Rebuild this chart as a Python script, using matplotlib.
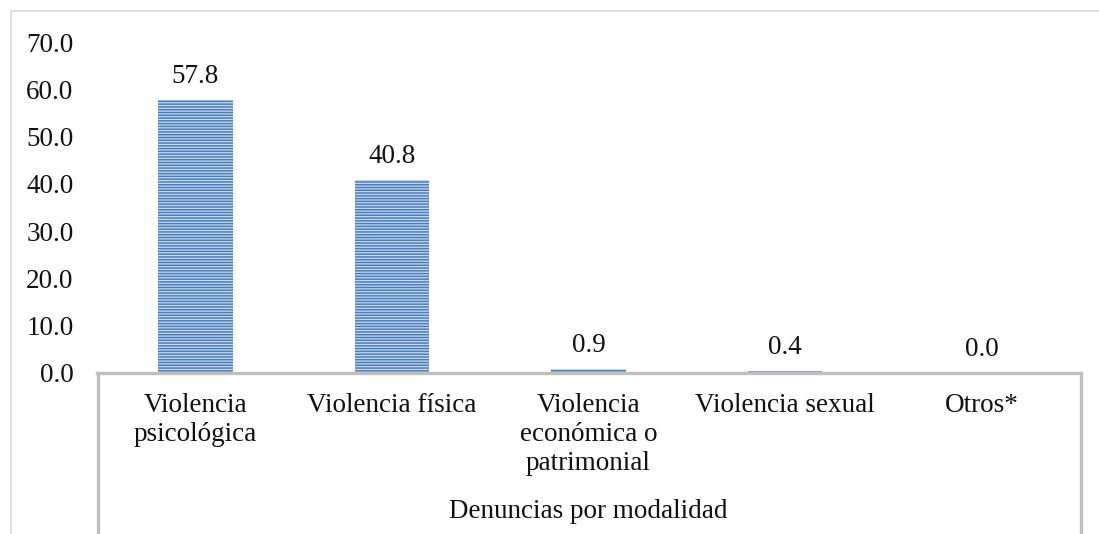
import matplotlib.pyplot as plt
import matplotlib.transforms as mtransforms
from matplotlib.lines import Line2D
from matplotlib.patches import Rectangle
import numpy as np

categories = ["Violencia\npsicológica", "Violencia física",
              "Violencia\neconómica o\npatrimonial", "Violencia sexual", "Otros*"]
values = [57.8, 40.8, 0.9, 0.4, 0.0]
yticks = [0, 10, 20, 30, 40, 50, 60, 70]
group_label = "Denuncias por modalidad"

plt.rcParams['font.family'] = ['Liberation Serif', 'DejaVu Serif']
plt.rcParams['hatch.color'] = '#4a7ebb'
plt.rcParams['hatch.linewidth'] = 1.1

W, H = 1099, 534
FS = 19.5
fig = plt.figure(figsize=(W / 100, H / 100), dpi=100)
ax = fig.add_axes([97 / W, (H - 373) / H, (1080 - 97) / W, (373 - 42) / H])

x = np.arange(len(categories))
ax.bar(x, values, width=0.38, color='#c6d9f1', edgecolor='#4a7ebb',
       hatch='------', linewidth=0)

for xi, v in zip(x, values):
    ax.annotate(f"{v:.1f}", (xi, v), xytext=(0, 17), textcoords='offset points',
                ha='center', va='center', fontsize=FS, color='#111111')

ax.set_xlim(-0.5, len(categories) - 0.5)
ax.set_ylim(0, 70)
ax.set_yticks(yticks)
ax.set_yticklabels([f"{t:.1f}" for t in yticks], fontsize=FS, color='#111111')
ax.tick_params(axis='y', length=0, pad=17)
ax.set_xticks([])
for s in ['top', 'right', 'left']:
    ax.spines[s].set_visible(False)
ax.spines['bottom'].set_color('#bfbfbf')
ax.spines['bottom'].set_linewidth(2.4)

trans = mtransforms.blended_transform_factory(ax.transData, fig.transFigure)
for xi, lab in zip(x, categories):
    ax.text(xi, (H - 393) / H, lab, transform=trans, ha='center', va='top',
            fontsize=FS, linespacing=1.2, color='#111111')
ax.text(0.5, (H - 512) / H, group_label,
        transform=mtransforms.blended_transform_factory(ax.transAxes, fig.transFigure),
        ha='center', va='center', fontsize=FS, color='#111111')

# category axis side lines
for px in (97.5, 1080.5):
    fig.add_artist(Line2D([px / W, px / W], [0, (H - 373) / H], color='#bfbfbf', lw=2.4))

# chart area border
fig.add_artist(Rectangle((11 / W, -0.05), 1.1, (H - 11) / H + 0.05, transform=fig.transFigure,
                         fill=False, edgecolor='#d9d9d9', lw=1.2))

fig.savefig('out.png', dpi=100)
